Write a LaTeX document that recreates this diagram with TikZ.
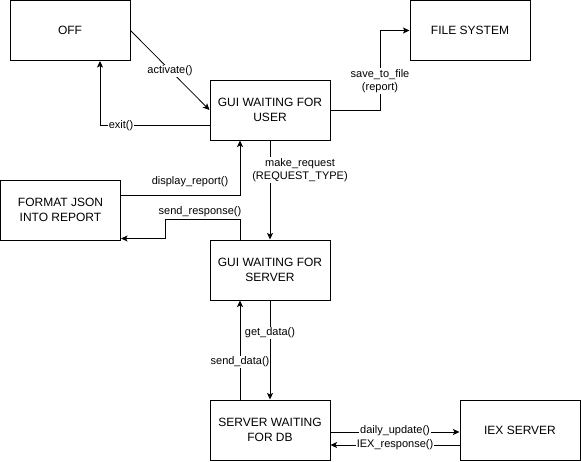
\documentclass[tikz,border=0pt]{standalone}
\usepackage{fontspec}
\setmainfont{Liberation Sans}
\usetikzlibrary{arrows.meta,calc}
\begin{document}
\begin{tikzpicture}[x=1pt,y=-1pt,
  boxn/.style={draw, line width=1pt, minimum width=120pt, minimum height=60pt, inner sep=0pt, align=center, font=\fontsize{12}{14.4}\selectfont},
  elabel/.style={font=\fontsize{11}{13}\selectfont, inner sep=1pt, align=center},
  elabelw/.style={elabel, fill=white},
  conn/.style={line width=1pt, -{Stealth[length=6.5pt,width=6pt,inset=1.5pt]}},
  connd/.style={line width=0.8pt, -{Stealth[length=6.5pt,width=6pt,inset=1.5pt]}}]
\useasboundingbox (0,0) rectangle (581,461);
\node[boxn] (off)  at (70,30.5)  {OFF};
\node[boxn] (fs)   at (470,30.5) {FILE SYSTEM};
\node[boxn] (guiu) at (270,110)  {GUI WAITING FOR\\USER};
\node[boxn] (fmt)  at (60.5,210) {FORMAT JSON\\INTO REPORT};
\node[boxn] (guis) at (270,270)  {GUI WAITING FOR\\SERVER};
\node[boxn] (db)   at (270,430)  {SERVER WAITING\\FOR DB};
\node[boxn] (iex)  at (520,430)  {IEX SERVER};

% activate
\draw[connd] (off.east) -- (guiu.west);
\node[elabelw] (lact) at (170,71) {activate()};
% exit
\draw[conn] ([yshift=-15pt]guiu.west) -| ([xshift=30pt]off.south);
\node[elabelw] (lexit) at (121,126) {exit()};
% save to file
\draw[conn] (guiu.east) -- ++(50,0) |- (fs.west);
\node[elabelw] (lsave) at (380,81) {save\_to\_file\\(report)};
% display report
\draw[conn] ([yshift=15pt]fmt.east) -| ([xshift=-30pt]guiu.south);
\node[elabel] (ldisp) at (190,182) {display\_report()};
% make request
\draw[conn] (guiu.south) -- (guis.north);
\node[elabelw] (lmake) at (300,170) {make\_request\\(REQUEST\_TYPE)};
% send response
\draw[conn] ([xshift=-30pt]guis.north) -- ++(0,-20) -- ++(-75,0) |- ([yshift=2pt]fmt.south east);
\node[elabel] (lsend) at (200,212) {send\_response()};
% get data
\draw[conn] (guis.south) -- (db.north);
\node[elabelw] (lget) at (270,333) {get\_data()};
% send data
\draw[conn] ([xshift=-30pt]db.north) -- ([xshift=-30pt]guis.south);
\node[elabelw] (lsd) at (240,362) {send\_data()};
% daily update
\draw[conn] ([yshift=-2pt]db.east) -- ([yshift=-2pt]iex.west);
\node[elabelw] (ldaily) at (395,431) {daily\_update()};
% IEX response
\draw[conn] ([yshift=-15pt]iex.west) -- ([yshift=-15pt]db.east);
\node[elabelw] (liex) at (395,445) {IEX\_response()};
\end{tikzpicture}
\end{document}
